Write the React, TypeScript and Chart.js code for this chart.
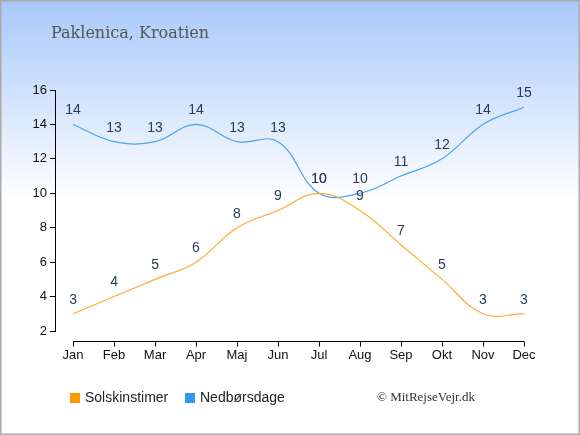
import React, { useEffect, useRef } from "react";
import { Chart, registerables } from "chart.js";

Chart.register(...registerables);

const months = ["Jan", "Feb", "Mar", "Apr", "Maj", "Jun", "Jul", "Aug", "Sep", "Okt", "Nov", "Dec"];
const sunHours = [3, 4, 5, 6, 8, 9, 10, 9, 7, 5, 3, 3];
const rainDays = [14, 13, 13, 14, 13, 13, 10, 10, 11, 12, 14, 15];
const yTicks = [2, 4, 6, 8, 10, 12, 14, 16];
const titleText = "Paklenica, Kroatien";
const creditText = "© MitRejseVejr.dk";
const seriesNames = ["Solskinstimer", "Nedbørsdage"];

const W = 580;
const H = 435;

const decorPlugin = {
  id: "decor",
  beforeDraw(chart: any) {
    const ctx = chart.ctx;
    ctx.save();
    const g = ctx.createLinearGradient(0, 0, 0, 200);
    g.addColorStop(0, "#a8c8fa");
    g.addColorStop(1, "#ffffff");
    ctx.fillStyle = "#ffffff";
    ctx.fillRect(0, 0, W, H);
    ctx.fillStyle = g;
    ctx.fillRect(0, 0, W, 200);
    ctx.strokeStyle = "#aaaaaa";
    ctx.lineWidth = 1.5;
    ctx.strokeRect(0.75, 0.75, W - 1.5, H - 1.5);
    ctx.fillStyle = "#555555";
    ctx.font = "16px 'DejaVu Serif'";
    ctx.textAlign = "left";
    ctx.textBaseline = "alphabetic";
    ctx.fillText(titleText, 51, 38);
    ctx.restore();
  },
  afterDraw(chart: any) {
    const ctx = chart.ctx;
    const x = chart.scales.x;
    const area = chart.chartArea;
    ctx.save();
    // x axis line, offset below plot area
    const yLine = area.bottom + 10.5;
    ctx.strokeStyle = "#000000";
    ctx.lineWidth = 1;
    ctx.beginPath();
    ctx.moveTo(x.getPixelForValue(0), yLine);
    ctx.lineTo(x.getPixelForValue(months.length - 1), yLine);
    months.forEach((_, i) => {
      const px = Math.round(x.getPixelForValue(i)) + 0.5;
      ctx.moveTo(px, yLine);
      ctx.lineTo(px, yLine + 5);
    });
    ctx.stroke();

    // data labels
    ctx.fillStyle = "#2b3a55";
    ctx.font = "14px 'Liberation Sans', Arial, sans-serif";
    ctx.textAlign = "center";
    ctx.textBaseline = "middle";
    chart.data.datasets.forEach((ds: any, di: number) => {
      const meta = chart.getDatasetMeta(di);
      meta.data.forEach((pt: any, i: number) => {
        ctx.fillText(String(ds.data[i].y), pt.x, pt.y - 14);
      });
    });

    // legend
    ctx.font = "14px 'Liberation Sans', Arial, sans-serif";
    ctx.textAlign = "left";
    ctx.textBaseline = "middle";
    const legendX = [70, 185];
    chart.data.datasets.forEach((ds: any, di: number) => {
      const lx = legendX[di];
      ctx.fillStyle = ds.backgroundColor;
      ctx.fillRect(lx, 393, 10, 10);
      ctx.fillStyle = "#222222";
      ctx.fillText(ds.label, lx + 15, 398);
    });

    ctx.fillStyle = "#333333";
    ctx.font = "13px 'Liberation Serif', serif";
    ctx.textAlign = "left";
    ctx.fillText(creditText, 377, 398);
    ctx.restore();
  },
};

export default function App() {
  const ref = useRef<HTMLCanvasElement | null>(null);

  useEffect(() => {
    document.body.style.margin = "0";
    if (!ref.current) return;
    const chart = new Chart(ref.current, {
      type: "line",
      data: {
        datasets: [
          {
            label: seriesNames[0],
            data: sunHours.map((v, i) => ({ x: i, y: v })),
            borderColor: "#ffaa33",
            backgroundColor: "#ff9900",
            borderWidth: 1.2,
            pointRadius: 0,
            tension: 0.4,
            fill: false,
          },
          {
            label: seriesNames[1],
            data: rainDays.map((v, i) => ({ x: i, y: v })),
            borderColor: "#4aa3ee",
            backgroundColor: "#3399ee",
            borderWidth: 1.2,
            pointRadius: 0,
            tension: 0.4,
            fill: false,
          },
        ],
      },
      options: {
        responsive: false,
        animation: false,
        layout: { padding: { top: 90, left: 0, right: 38, bottom: 0 } },
        plugins: {
          legend: { display: false },
          title: { display: false },
          tooltip: { enabled: false },
        },
        scales: {
          x: {
            type: "linear",
            min: -0.44,
            max: 11.44,
            afterBuildTicks: (scale: any) => {
              scale.ticks = months.map((_, i) => ({ value: i }));
            },
            afterFit: (scale: any) => {
              scale.height = H - 331;
            },
            grid: { display: false, drawTicks: false },
            border: { display: false },
            ticks: {
              autoSkip: false,
              maxRotation: 0,
              padding: 17,
              color: "#111111",
              font: { size: 13, family: "'Liberation Sans', Arial, sans-serif" },
              callback: (v: any) => months[v as number] ?? "",
            },
          },
          y: {
            min: yTicks[0],
            max: yTicks[yTicks.length - 1],
            afterBuildTicks: (scale: any) => {
              scale.ticks = yTicks.map((v) => ({ value: v }));
            },
            afterFit: (scale: any) => {
              scale.width = 55;
            },
            border: { display: true, color: "#000000", width: 1 },
            grid: { drawOnChartArea: false, drawTicks: true, tickLength: 5, color: "#000000" },
            ticks: {
              padding: 3,
              color: "#111111",
              font: { size: 13, family: "'Liberation Sans', Arial, sans-serif" },
            },
          },
        },
      },
      plugins: [decorPlugin],
    } as any);
    return () => chart.destroy();
  }, []);

  return <canvas ref={ref} width={W} height={H} style={{ display: "block" }} />;
}
